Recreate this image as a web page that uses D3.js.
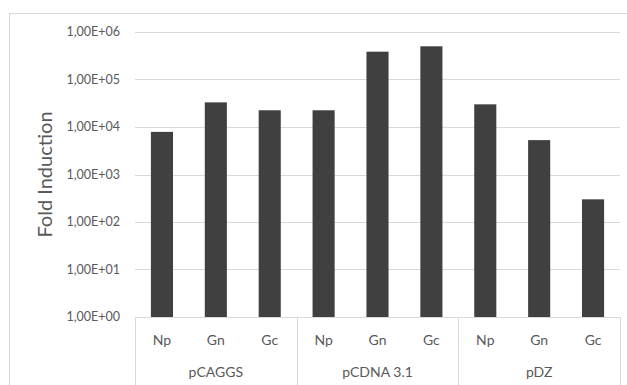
<!DOCTYPE html>
<html>
<head>
<meta charset="utf-8">
<script src="https://cdn.jsdelivr.net/npm/d3@7"></script>
<style>
  body { margin: 0; background: #fff; }
  text { font-family: Lato, "Open Sans", sans-serif; fill: #595959; }
</style>
</head>
<body>
<svg id="chart" width="627" height="385"></svg>
<script>
// data
var groups = ["pCAGGS", "pCDNA 3.1", "pDZ"];
var genes = ["Np", "Gn", "Gc"];
var values = [7900, 33000, 22500, 22500, 385000, 500000, 30000, 5300, 300];
var yTicks = [1, 10, 100, 1000, 10000, 100000, 1000000];
var yTickLabels = ["1,00E+00", "1,00E+01", "1,00E+02", "1,00E+03", "1,00E+04", "1,00E+05", "1,00E+06"];

var svg = d3.select("#chart"),
    margin = { top: 32, right: 7, bottom: 68, left: 135 },
    width = +svg.attr("width") - margin.left - margin.right,
    height = +svg.attr("height") - margin.top - margin.bottom;

var rows = [];
groups.forEach(function(g, gi) {
    genes.forEach(function(n, ni) {
        rows.push({ key: g + "|" + n, group: g, gene: n, value: values[gi * genes.length + ni] });
    });
});

var x = d3.scaleBand()
    .domain(rows.map(function(d) { return d.key; }))
    .range([0, width])
    .paddingInner(0.59)
    .paddingOuter(0.295);

var y = d3.scaleLog().domain([1, 1000000]).range([height, 0]);

// chart frame
svg.append("rect")
    .attr("x", 9.5).attr("y", 13.5)
    .attr("width", 700).attr("height", 500)
    .attr("fill", "none")
    .attr("stroke", "#d9d9d9");

var g = svg.append("g")
    .attr("transform", "translate(" + margin.left + "," + margin.top + ")");

// gridlines
g.append("g").selectAll("line")
    .data(yTicks)
    .enter().append("line")
    .attr("x1", 0).attr("x2", width)
    .attr("y1", function(d) { return Math.round(y(d)) + 0.5; })
    .attr("y2", function(d) { return Math.round(y(d)) + 0.5; })
    .attr("stroke", "#d9d9d9");

// y tick labels
g.append("g").selectAll("text")
    .data(yTicks)
    .enter().append("text")
    .attr("x", -15)
    .attr("y", function(d) { return y(d); })
    .attr("dy", "0.35em")
    .attr("text-anchor", "end")
    .style("font-size", "12.5px")
    .text(function(d, i) { return yTickLabels[i]; });

// bars
g.append("g").selectAll("rect")
    .data(rows)
    .enter().append("rect")
    .attr("x", function(d) { return x(d.key); })
    .attr("width", x.bandwidth())
    .attr("y", function(d) { return y(d.value); })
    .attr("height", function(d) { return height - y(d.value); })
    .attr("fill", "#404040");

// category axis: gene labels
g.append("g").selectAll("text")
    .data(rows)
    .enter().append("text")
    .attr("x", function(d) { return x(d.key) + x.bandwidth() / 2; })
    .attr("y", height + 23)
    .attr("dy", "0.35em")
    .attr("text-anchor", "middle")
    .style("font-size", "14px")
    .text(function(d) { return d.gene; });

// group separators
var step = x.step();
var bounds = d3.range(groups.length + 1).map(function(i) { return i * genes.length * step; });
g.append("g").selectAll("line")
    .data(bounds)
    .enter().append("line")
    .attr("x1", function(d) { return Math.round(d) + 0.5; })
    .attr("x2", function(d) { return Math.round(d) + 0.5; })
    .attr("y1", height)
    .attr("y2", height + 70)
    .attr("stroke", "#d9d9d9");

// group labels
g.append("g").selectAll("text")
    .data(groups)
    .enter().append("text")
    .attr("x", function(d, i) { return (i + 0.5) * genes.length * step; })
    .attr("y", height + 55)
    .attr("dy", "0.35em")
    .attr("text-anchor", "middle")
    .style("font-size", "14px")
    .text(function(d) { return d; });

// y axis title
svg.append("text")
    .attr("transform", "translate(45," + (margin.top + height / 2) + ") rotate(-90)")
    .attr("dy", "0.35em")
    .attr("text-anchor", "middle")
    .style("font-size", "20px")
    .text("Fold Induction");
</script>
</body>
</html>
